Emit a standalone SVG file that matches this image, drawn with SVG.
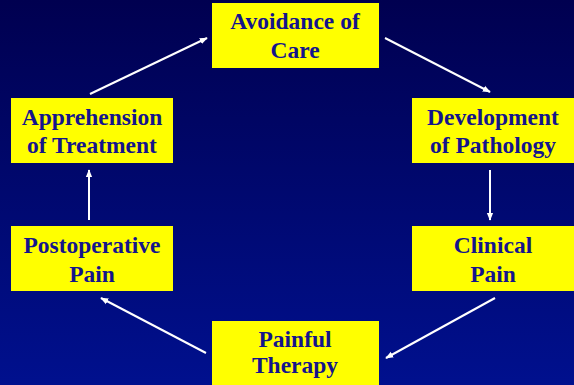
<svg xmlns="http://www.w3.org/2000/svg" width="574" height="385" viewBox="0 0 574 385">
  <defs>
    <linearGradient id="bg" x1="0" y1="0" x2="0" y2="1">
      <stop offset="0" stop-color="#000050"/>
      <stop offset="1" stop-color="#00108e"/>
    </linearGradient>
    <marker id="head" viewBox="0 0 10 10" refX="9" refY="5" markerWidth="4" markerHeight="4" orient="auto" markerUnits="strokeWidth">
      <path d="M0,1 L10,5 L0,9 z" fill="#ffffff"/>
    </marker>
    <style>
      .box { fill: #ffff00; }
      .lbl { font-family: "Liberation Serif", "Times New Roman", serif; font-weight: bold; font-size: 23.5px; fill: #14148c; text-anchor: middle; }
      .arrow { stroke: #ffffff; stroke-width: 2; fill: none; marker-end: url(#head); }
    </style>
  </defs>

  <rect width="574" height="385" fill="url(#bg)"/>

  <g id="connectors">
    <line class="arrow" x1="90" y1="94" x2="207" y2="38"/>
    <line class="arrow" x1="385" y1="38" x2="490" y2="92"/>
    <line class="arrow" x1="490" y1="170" x2="490" y2="220"/>
    <line class="arrow" x1="495" y1="298" x2="386" y2="358"/>
    <line class="arrow" x1="206" y1="353" x2="101" y2="298"/>
    <line class="arrow" x1="89" y1="220" x2="89" y2="170"/>
  </g>

  <g id="avoidance">
    <rect class="box" x="212" y="3" width="167" height="65"/>
    <text class="lbl" x="295" y="29">Avoidance of</text>
    <text class="lbl" x="295" y="58">Care</text>
  </g>

  <g id="development">
    <rect class="box" x="412" y="98" width="162" height="65"/>
    <text class="lbl" x="493" y="125">Development</text>
    <text class="lbl" x="493" y="153">of Pathology</text>
  </g>

  <g id="clinical">
    <rect class="box" x="412" y="226" width="162" height="65"/>
    <text class="lbl" x="493" y="253">Clinical</text>
    <text class="lbl" x="493" y="282">Pain</text>
  </g>

  <g id="painful">
    <rect class="box" x="212" y="321" width="167" height="64"/>
    <text class="lbl" x="295" y="347">Painful</text>
    <text class="lbl" x="295" y="373">Therapy</text>
  </g>

  <g id="postoperative">
    <rect class="box" x="11" y="226" width="162" height="65"/>
    <text class="lbl" x="92" y="253">Postoperative</text>
    <text class="lbl" x="92" y="282">Pain</text>
  </g>

  <g id="apprehension">
    <rect class="box" x="11" y="98" width="162" height="65"/>
    <text class="lbl" x="92" y="125">Apprehension</text>
    <text class="lbl" x="92" y="153">of Treatment</text>
  </g>
</svg>
